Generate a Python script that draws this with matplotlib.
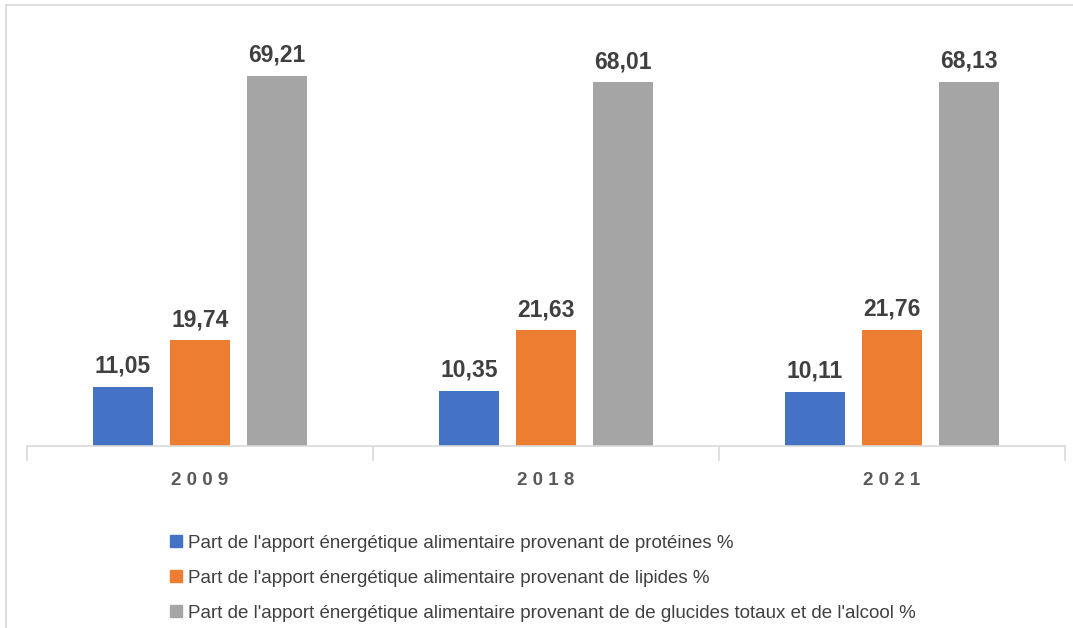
import matplotlib.pyplot as plt
from matplotlib.lines import Line2D
import numpy as np

years = ['2009', '2018', '2021']
proteines = [11.05, 10.35, 10.11]
lipides = [19.74, 21.63, 21.76]
glucides = [69.21, 68.01, 68.13]
series_labels = [
    "Part de l'apport énergétique alimentaire provenant de protéines %",
    "Part de l'apport énergétique alimentaire provenant de lipides %",
    "Part de l'apport énergétique alimentaire provenant de de glucides totaux et de l'alcool %",
]
colors = ['#4472C4', '#ED7D31', '#A5A5A5']

plt.rcParams['font.family'] = ['Liberation Sans', 'DejaVu Sans']

fig = plt.figure(figsize=(10.73, 6.28), dpi=100)
ax = fig.add_axes([27 / 1073, 1 - 446 / 628, (1065 - 27) / 1073, (446 - 18.3) / 628])

x = np.arange(len(years))
w = 0.176
step = 0.2225
for i, (vals, col) in enumerate(zip([proteines, lipides, glucides], colors)):
    pos = x + (i - 1) * step
    ax.bar(pos, vals, width=w, color=col, label=series_labels[i], zorder=2)
    for px, v in zip(pos, vals):
        ax.text(px, v + 1.7, f'{v:.2f}'.replace('.', ','), ha='center', va='bottom',
                fontsize=16.5, fontweight='bold', color='#404040')

ax.set_xlim(-0.5, 2.5)
ax.set_ylim(0, 80)
for s in ['top', 'right', 'left']:
    ax.spines[s].set_visible(False)
ax.spines['bottom'].set_color('#D9D9D9')
ax.spines['bottom'].set_linewidth(1.2)
ax.set_yticks([])
ax.set_xticks([-0.5, 0.5, 1.5, 2.5])
ax.set_xticklabels([])
ax.tick_params(axis='x', length=11, width=1.2, color='#D9D9D9')
for xi, yr in zip(x, years):
    ax.text(xi, -0.08, ' '.join(yr), transform=ax.get_xaxis_transform(), ha='center', va='center',
            fontsize=13.5, fontweight='bold', color='#595959')

handles = [Line2D([0], [0], marker='s', linestyle='none', markersize=9,
                  markerfacecolor=c, markeredgecolor=c) for c in colors]
fig.legend(handles, series_labels, loc='upper left', bbox_to_anchor=(150 / 1073, 1 - 518 / 628),
           frameon=False, fontsize=13.5, labelcolor='#404040', handletextpad=0.1,
           labelspacing=0.95, handlelength=1.0)

# light frame (top and left edges visible)
fig.add_artist(Line2D([6 / 1073, 1], [1 - 5 / 628, 1 - 5 / 628], color='#D9D9D9', lw=1.2))
fig.add_artist(Line2D([6 / 1073, 6 / 1073], [0, 1 - 5 / 628], color='#D9D9D9', lw=1.2))

fig.savefig('out.png', dpi=100)
